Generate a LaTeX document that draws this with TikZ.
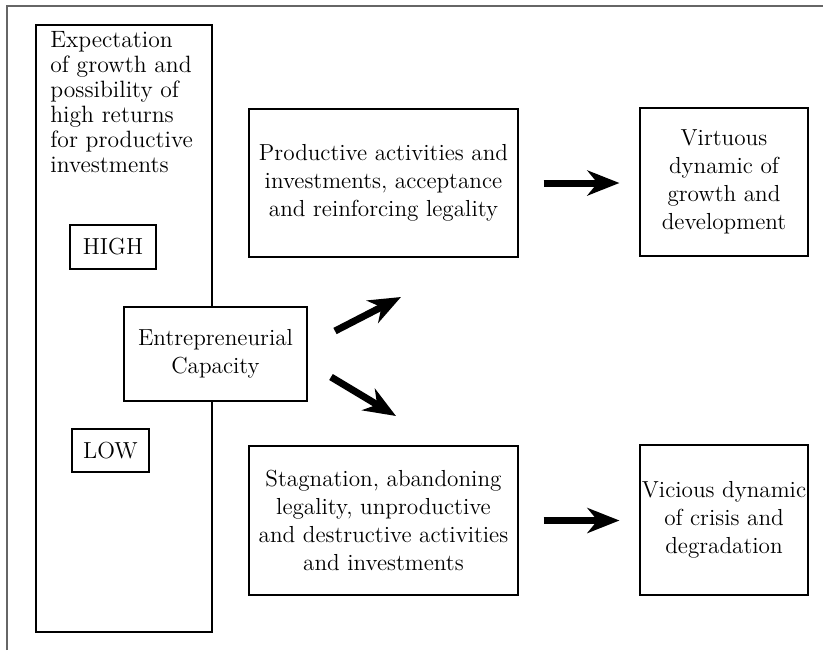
\documentclass[tikz,border=0pt]{standalone}
\usepackage{amsmath}
\usepackage[dvipsnames]{xcolor}
\usetikzlibrary{arrows.meta}

\tikzset{
    box/.style={draw=black,line width=0.55pt,align=center,inner sep=0pt,
        font=\fontsize{11.6}{14}\selectfont},
    bigarrow/.style={line width=3.5pt,-{Stealth[length=16pt,width=12.5pt,inset=5pt]}}
}

\begin{document}
\begin{tikzpicture}[x=0.5pt,y=-0.5pt]
    \useasboundingbox (0,0) rectangle (824,650);
    \draw[black!60,line width=1pt] (7,650) -- (7,6) -- (823,6);

    \node[box,minimum width=88pt,minimum height=303.5pt] (expect) at (124,328.5) {};
    \node[anchor=north west,inner sep=0pt,align=left,
        font=\fontsize{11.8}{12.5}\selectfont] (expecttxt) at (50,31)
        {Expectation\\of growth and\\possibility of\\high returns\\for productive\\investments};

    \node[box,minimum width=43pt,minimum height=22pt] (high) at (113,247) {HIGH};
    \node[box,minimum width=38.5pt,minimum height=21.5pt] (low) at (110.5,450.5) {LOW};

    \node[box,fill=white,minimum width=91.5pt,minimum height=47pt] (capacity) at (215.5,354)
        {Entrepreneurial\\Capacity};

    \node[box,minimum width=134.5pt,minimum height=74pt] (productive) at (383.5,183)
        {Productive activities and\\investments, acceptance\\and reinforcing legality};
    \node[box,minimum width=84pt,minimum height=74pt] (virtuous) at (724,182)
        {Virtuous\\dynamic of\\growth and\\development};

    \node[box,minimum width=134.5pt,minimum height=74.5pt] (stagnation) at (383.5,520.5)
        {Stagnation, abandoning\\legality, unproductive\\and destructive activities\\and investments};
    \node[box,minimum width=84pt,minimum height=75pt] (vicious) at (724,520)
        {Vicious dynamic\\of crisis and\\degradation};

    \coordinate (upstart) at (335,331);
    \coordinate (upend) at (401,297);
    \coordinate (downstart) at (331,377);
    \coordinate (downend) at (396,416);

    \draw[bigarrow] (upstart) -- (upend);
    \draw[bigarrow] (downstart) -- (downend);
    \draw[bigarrow,shorten <=12.5pt,shorten >=10pt] (productive.east) -- (virtuous.west |- productive.east);
    \draw[bigarrow,shorten <=12.5pt,shorten >=10pt] (stagnation.east) -- (vicious.west |- stagnation.east);
\end{tikzpicture}
\end{document}
